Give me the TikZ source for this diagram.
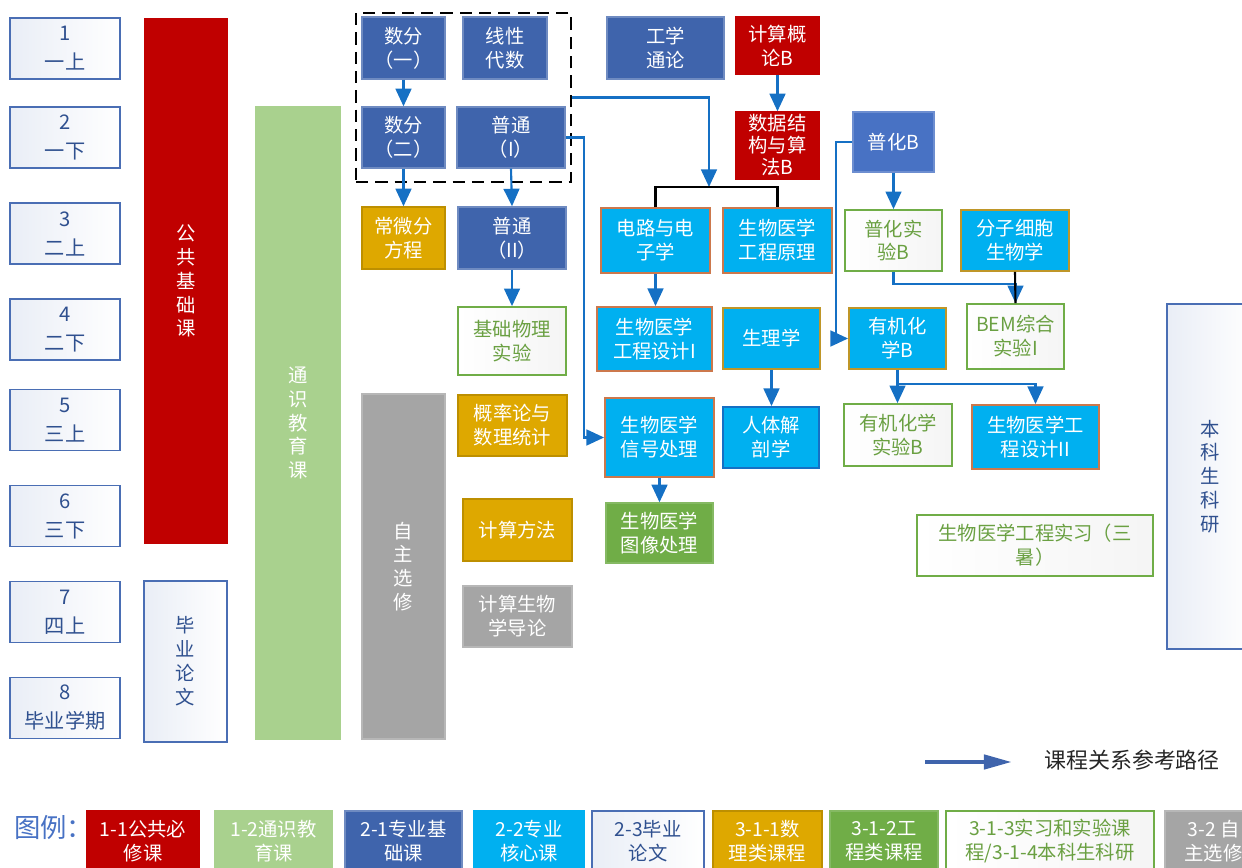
\documentclass[tikz,border=0pt]{standalone}
\usepackage{fontspec}
\setmainfont{Noto Sans CJK SC}
\usetikzlibrary{arrows.meta,positioning}

\definecolor{gjred}{RGB}{192,0,0}
\definecolor{tsgreen}{RGB}{169,209,142}
\definecolor{jcblue}{RGB}{63,100,172}
\definecolor{phblue}{RGB}{72,114,196}
\definecolor{hxcyan}{RGB}{0,176,240}
\definecolor{hxorange}{RGB}{204,120,76}
\definecolor{hxgold}{RGB}{191,150,40}
\definecolor{slgold}{RGB}{222,168,0}
\definecolor{gcgreen}{RGB}{112,173,71}
\definecolor{sygreen}{RGB}{106,160,66}
\definecolor{zxgray}{RGB}{165,165,165}
\definecolor{xqblue}{RGB}{74,110,180}
\definecolor{xqtext}{RGB}{47,80,143}
\definecolor{lujing}{RGB}{21,112,196}

\newcommand{\kzh}{\fontsize{11}{13.6}\selectfont}

\begin{document}
\begin{tikzpicture}[x=0.02cm,y=-0.02cm]
    \tikzset{
      chicun/.style 2 args={minimum width=#1*0.02cm,minimum height=#2*0.02cm},
      kuang/.style={draw,inner sep=0pt,align=center,text=white,font=\kzh,line width=0.8pt},
      gjbx/.style={kuang,fill=gjred,draw=gjred},
      tsjy/.style={kuang,fill=tsgreen,draw=tsgreen},
      zyjc/.style={kuang,fill=jcblue,draw=jcblue!75!white},
      zyhx/.style={kuang,fill=hxcyan,draw=hxorange,line width=1.1pt},
      hxjin/.style={zyhx,draw=hxgold},
      hxlan/.style={zyhx,draw=lujing},
      slkc/.style={kuang,fill=slgold,draw=slgold!85!black},
      gckc/.style={kuang,fill=gcgreen,draw=gcgreen!85!white},
      sykc/.style={kuang,left color=white,right color=gray!8,draw=gcgreen,text=sygreen,line width=1pt},
      zzxx/.style={kuang,fill=zxgray,draw=zxgray!80!white},
      bylw/.style={kuang,left color=xqblue!12,right color=white,draw=xqblue,text=xqtext,line width=1pt},
      xueqi/.style={bylw,chicun={110}{61},font=\fontsize{11.5}{16.5}\selectfont},
      shulikuang/.style={draw=black,line width=1.4pt,dash pattern=on 7pt off 4pt,inner sep=0pt},
      link/.style={-{Triangle[width=9pt,length=10pt]},draw=lujing,line width=1.2pt},
      bracket/.style={draw=black,line width=1.2pt}
    }
    \useasboundingbox (0,0) rectangle (1242,868);

    % semesters
    \node[xueqi](xq1) at (65,48.5){1\\一上};
    \node[xueqi](xq2) at (65,137.5){2\\一下};
    \node[xueqi](xq3) at (65,233.5){3\\二上};
    \node[xueqi](xq4) at (65,329.5){4\\二下};
    \node[xueqi](xq5) at (65,420){5\\三上};
    \node[xueqi](xq6) at (65,516){6\\三下};
    \node[xueqi](xq7) at (65,612){7\\四上};
    \node[xueqi](xq8) at (65,708){8\\毕业学期};

    % long bars
    \node[gjbx,chicun={82}{524}](gonggong) at (186,281){公\\共\\基\\础\\课};
    \node[bylw,chicun={83}{161}](biye) at (185.5,661.5){毕\\业\\论\\文};
    \node[tsjy,chicun={84}{632}](tongshi) at (298,423){通\\识\\教\\育\\课};
    \node[zzxx,chicun={83}{345}](zizhu) at (403.5,566.5){自\\主\\选\\修};
    \node[bylw,chicun={86}{345}](benke) at (1210,476.5){本\\科\\生\\科\\研};

    % courses
    \node[shulikuang,chicun={215}{169}](shuli) at (463.5,97.5){};
    \node[zyjc,chicun={83}{62}](shufen1) at (403.5,48){数分\\（一）};
    \node[zyjc,chicun={84}{62}](xiandai) at (505,48){线性\\代数};
    \node[zyjc,chicun={83}{61}](shufen2) at (403.5,137.5){数分\\（二）};
    \node[zyjc,chicun={108}{61}](putong1) at (511,137.5){普通\\（I）};
    \node[slkc,chicun={83}{62}](changwei) at (403.5,238){常微分\\方程};
    \node[zyjc,chicun={108}{62}](putong2) at (512,238){普通\\（II）};
    \node[sykc,chicun={108}{68}](jcwlsy) at (512,341){基础物理\\实验};
    \node[slkc,chicun={109}{61}](gailv) at (512.5,425.5){概率论与\\数理统计};
    \node[slkc,chicun={109}{62}](jsff) at (517.5,530){计算方法};
    \node[zzxx,chicun={109}{61}](jsswx) at (517.5,616.5){计算生物\\学导论};

    \node[zyjc,chicun={117}{62}](gxtl) at (665.5,48){工学\\通论};
    \node[gjbx,chicun={83}{57}](jsgl) at (777.5,45.5){计算概\\论B};
    \node[gjbx,chicun={83}{67},font=\fontsize{11}{12.6}\selectfont](sjjg) at (777.5,145.5){数据结\\构与算\\法B};
    \node[zyjc,fill=phblue,draw=phblue!80!white,chicun={81}{60}](puhua) at (893.5,142){普化B};

    \node[zyhx,chicun={109}{65}](dianlu) at (655.5,240.5){电路与电\\子学};
    \node[zyhx,chicun={109}{65}](ygyl) at (777.5,240.5){生物医学\\工程原理};
    \node[sykc,chicun={97}{61}](phsy) at (893.5,240.5){普化实\\验B};
    \node[hxjin,chicun={108}{61}](fzxb) at (1015,240.5){分子细胞\\生物学};

    \node[zyhx,chicun={115}{64}](sheji1) at (654.5,339){生物医学\\工程设计I};
    \node[hxjin,chicun={97}{61}](shengli) at (771.5,338.5){生理学};
    \node[hxjin,chicun={97}{61}](youji) at (897.5,338.5){有机化\\学B};
    \node[sykc,chicun={97}{65}](bem) at (1015.5,336.5){BEM综合\\实验I};

    \node[zyhx,chicun={109}{79}](xinhao) at (659.5,437.5){生物医学\\信号处理};
    \node[hxlan,chicun={96}{61}](jiepou) at (771,437.5){人体解\\剖学};
    \node[sykc,chicun={108}{62}](yjsy) at (898,435){有机化学\\实验B};
    \node[zyhx,chicun={127}{64}](sheji2) at (1035.5,437){生物医学工\\程设计II};

    \node[gckc,chicun={107}{60}](tuxiang) at (659.5,533){生物医学\\图像处理};
    \node[sykc,chicun={236}{61}](shixi) at (1035,545.5){生物医学工程实习（三\\暑）};

    % prerequisite paths
    \coordinate (fork) at (709,187);
    \draw[link](shufen1.south) -- (shufen2.north);
    \draw[link](shufen2.south) -- (changwei.north);
    \draw[link](putong1.south) -- (putong2.north);
    \draw[link](putong2.south) -- (jcwlsy.north);
    \draw[link](shuli.east) -| (fork);
    \draw[bracket](dianlu.north) |- (fork) -| (ygyl.north);
    \draw[link](putong1.east) -- ++(18,0) |- (xinhao.west);
    \draw[link](jsgl.south) -- (sjjg.north);
    \draw[link](puhua.south) -- (phsy.north);
    \draw[link](puhua.west) -- ++(-16,0) |- (youji.west);
    \draw[link](phsy.south) -- ++(0,12) -| (bem.north);
    \draw[bracket](fzxb.south) -- (bem.north);
    \draw[link](dianlu.south) -- (dianlu.south |- sheji1.north);
    \draw[link](shengli.south) -- (shengli.south |- jiepou.north);
    \draw[link](youji.south) -- (youji.south |- yjsy.north);
    \draw[link](youji.south) -- ++(0,14) -| (sheji2.north);
    \draw[link](xinhao.south) -- (xinhao.south |- tuxiang.north);

    % legend
    \coordinate (ljq) at (925,762);
    \coordinate (ljz) at (1012,762);
    \draw[draw=jcblue,line width=2.5pt,-{Triangle[width=8pt,length=16pt]}](ljq) -- (ljz);
    \node[anchor=west,font=\fontsize{12.5}{15}\selectfont,text=black!85](ljsm) at (1038,760){课程关系参考路径};

    \node[anchor=west,font=\fontsize{15}{18}\selectfont,text=phblue](tuli) at (8,828){图例：};
    \node[gjbx,chicun={112}{60}](tl1) at (143,841){1-1公共必\\修课};
    \node[tsjy,chicun={117}{60}](tl2) at (273.5,841){1-2通识教\\育课};
    \node[zyjc,chicun={117}{60}](tl3) at (403.5,841){2-1专业基\\础课};
    \node[zyhx,draw=hxcyan,chicun={110}{60}](tl4) at (529,841){2-2专业\\核心课};
    \node[bylw,chicun={112}{60}](tl5) at (648,841){2-3毕业\\论文};
    \node[slkc,chicun={109}{60}](tl6) at (767.5,841){3-1-1数\\理类课程};
    \node[gckc,chicun={108}{60}](tl7) at (884,841){3-1-2工\\程类课程};
    \node[sykc,chicun={208}{60}](tl8) at (1050,841){3-1-3实习和实验课\\程/3-1-4本科生科研};
    \node[zzxx,chicun={97}{60}](tl9) at (1213.5,841){3-2 自\\主选修};
\end{tikzpicture}
\end{document}
